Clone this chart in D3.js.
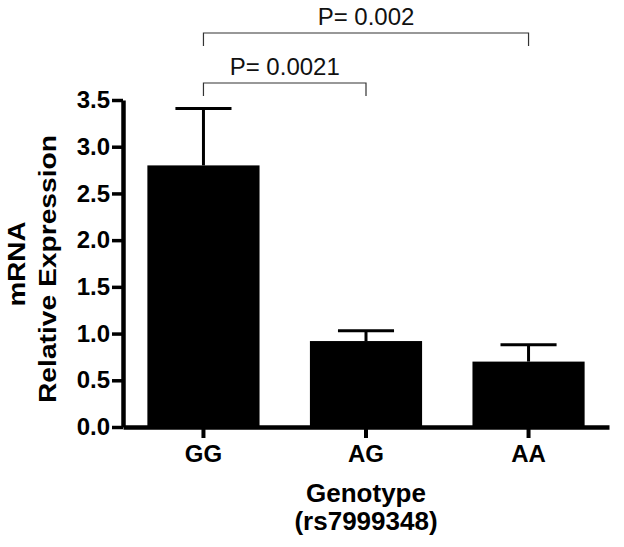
<!DOCTYPE html>
<html>
<head>
<meta charset="utf-8">
<script src="https://cdn.jsdelivr.net/npm/d3@7"></script>
<style>
  body { margin: 0; background: #fff; }
  svg text { font-family: "Liberation Sans", Arial, sans-serif; }
</style>
</head>
<body>
<script>
'use strict';

// chart data
const genotypes = ["GG", "AG", "AA"];
const means = [2.80, 0.92, 0.70];
const errors = [0.61, 0.11, 0.18];
const yTicks = [0, 0.5, 1.0, 1.5, 2.0, 2.5, 3.0, 3.5];
const comparisons = [
  {from: "GG", to: "AG", label: "P= 0.0021", level: 0},
  {from: "GG", to: "AA", label: "P= 0.002", level: 1}
];

const width = 624, height = 547;
const m = {left: 123, right: 15, top: 100, bottom: 120};

const svg = d3.select('body')
  .append('svg')
  .attr('width', width)
  .attr('height', height);

// scales
const x = d3.scaleBand()
  .domain(genotypes)
  .range([m.left, width - m.right])
  .paddingInner(0.31)
  .paddingOuter(0.15);

const y = d3.scaleLinear()
  .domain([0, 3.5])
  .range([height - m.bottom, m.top]);

// bars
svg.selectAll('.bar')
  .data(genotypes)
  .enter()
  .append('rect')
    .attr('x', d => x(d))
    .attr('y', (d, i) => y(means[i]))
    .attr('width', x.bandwidth())
    .attr('height', (d, i) => y(0) - y(means[i]))
    .attr('fill', '#000');

// error bars (upper only)
const errG = svg.append('g').attr('stroke', '#000').attr('stroke-width', 3);
genotypes.forEach((g, i) => {
  let cx = x(g) + x.bandwidth() / 2;
  let top = y(means[i] + errors[i]);
  errG.append('line')
    .attr('x1', cx).attr('x2', cx)
    .attr('y1', y(means[i])).attr('y2', top);
  errG.append('line')
    .attr('x1', cx - x.bandwidth() / 4).attr('x2', cx + x.bandwidth() / 4)
    .attr('y1', top).attr('y2', top);
});

// y axis
const yAxis = svg.append('g')
  .attr('transform', 'translate(' + m.left + ',0)')
  .call(d3.axisLeft(y).tickValues(yTicks).tickFormat(d3.format('.1f')).tickSize(11).tickSizeOuter(0).tickPadding(2));
yAxis.select('.domain').attr('stroke-width', 4.5);
yAxis.selectAll('.tick line').attr('stroke-width', 3.5);
yAxis.selectAll('text')
  .attr('font-size', 24)
  .attr('font-weight', 'bold')
  .attr('fill', '#000');

// x axis
const xAxis = svg.append('g')
  .attr('transform', 'translate(0,' + y(0) + ')')
  .call(d3.axisBottom(x).tickSize(11).tickSizeOuter(0).tickPadding(7));
xAxis.select('.domain').attr('stroke-width', 4.5);
xAxis.selectAll('.tick line').attr('stroke-width', 4);
xAxis.selectAll('text')
  .attr('font-size', 24)
  .attr('font-weight', 'bold')
  .attr('fill', '#000');

// axis titles (y title glyphs are stretched along the text in the original)
svg.append('text')
  .attr('transform', 'translate(25, 264)rotate(-90)')
  .attr('text-anchor', 'middle')
  .attr('font-size', 23.5)
  .attr('font-weight', 'bold')
  .attr('textLength', 85)
  .attr('lengthAdjust', 'spacingAndGlyphs')
  .text('mRNA');

svg.append('text')
  .attr('transform', 'translate(56, 269)rotate(-90)')
  .attr('text-anchor', 'middle')
  .attr('font-size', 23.5)
  .attr('font-weight', 'bold')
  .attr('textLength', 268)
  .attr('lengthAdjust', 'spacingAndGlyphs')
  .text('Relative Expression');

const xMid = x('AG') + x.bandwidth() / 2;
svg.append('text')
  .attr('x', xMid).attr('y', 502)
  .attr('text-anchor', 'middle')
  .attr('font-size', 26)
  .attr('font-weight', 'bold')
  .text('Genotype');

svg.append('text')
  .attr('x', xMid).attr('y', 530)
  .attr('text-anchor', 'middle')
  .attr('font-size', 26)
  .attr('font-weight', 'bold')
  .text('(rs7999348)');

// significance brackets
const bracketY = [83, 33];
comparisons.forEach(c => {
  let x1 = x(c.from) + x.bandwidth() / 2;
  let x2 = x(c.to) + x.bandwidth() / 2;
  let by = bracketY[c.level];
  svg.append('path')
    .attr('d', 'M' + x1 + ',' + (by + 13) + 'V' + by + 'H' + x2 + 'V' + (by + 13))
    .attr('fill', 'none')
    .attr('stroke', '#333')
    .attr('stroke-width', 1.2);
  svg.append('text')
    .attr('x', (x1 + x2) / 2)
    .attr('y', by - 8)
    .attr('text-anchor', 'middle')
    .attr('font-size', 24)
    .attr('fill', '#111')
    .text(c.label);
});
</script>
</body>
</html>
